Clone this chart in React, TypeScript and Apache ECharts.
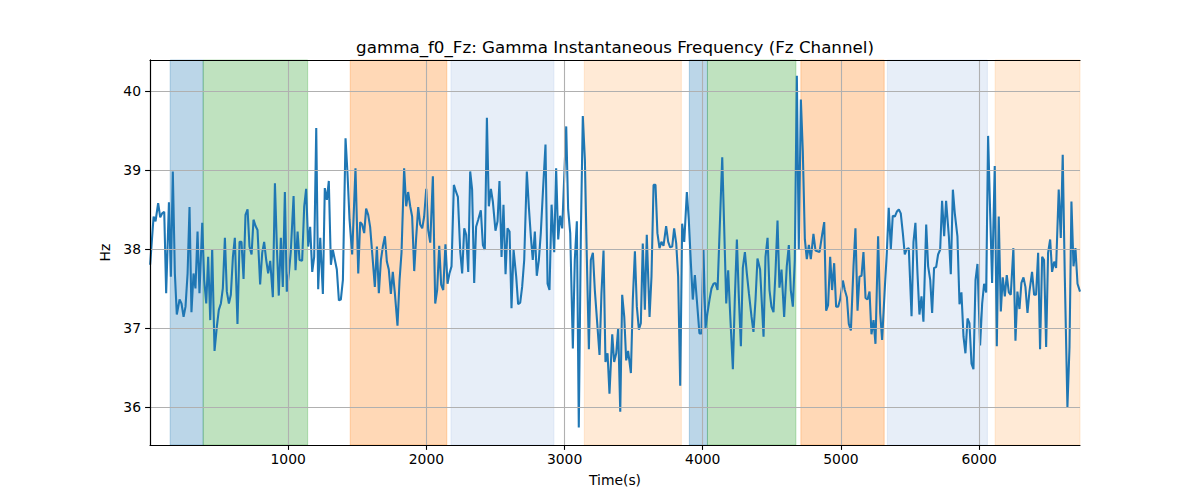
import React, { useEffect, useRef } from "react";
import * as echarts from "echarts";

// Sample times (s) and instantaneous frequency values (Hz)
const times = [
  1, 26, 40, 59, 74, 88, 103, 117, 137, 151, 165, 180, 194, 214, 228, 243, 257, 272, 286, 300,
  315, 329, 344, 358, 378, 392, 407, 421, 436, 450, 467, 484, 498, 513, 527, 542, 556, 571, 585, 600,
  614, 633, 648, 662, 677, 691, 706, 720, 735, 749, 764, 778, 797, 812, 826, 841, 855, 870, 889, 904,
  918, 932, 947, 961, 976, 990, 1005, 1019, 1039, 1053, 1068, 1082, 1101, 1116, 1130, 1145, 1159,
  1174, 1188, 1203, 1217, 1232, 1251, 1265, 1280, 1294, 1309, 1323, 1338, 1352, 1367, 1381, 1396,
  1415, 1429, 1444, 1463, 1487, 1507, 1521, 1535, 1550, 1564, 1579, 1593, 1608, 1627, 1642, 1656,
  1671, 1685, 1700, 1714, 1728, 1743, 1757, 1772, 1791, 1806, 1820, 1839, 1854, 1868, 1883, 1897,
  1912, 1926, 1941, 1955, 1970, 1984, 1999, 2013, 2028, 2047, 2064, 2078, 2093, 2107, 2122, 2138,
  2153, 2167, 2182, 2199, 2213, 2228, 2245,
  2259, 2274, 2288, 2303, 2317, 2331, 2346, 2360, 2375, 2394, 2409, 2423, 2438, 2452, 2467, 2481,
  2500, 2515, 2529, 2544, 2558, 2573, 2587, 2602, 2616, 2631, 2650, 2664, 2679, 2693, 2708, 2727,
  2742, 2756, 2770, 2785, 2799, 2814, 2828, 2843, 2862, 2877, 2891, 2906, 2925, 2939, 2954, 2968,
  2983, 3012, 3026, 3041, 3060, 3074, 3089, 3103, 3118, 3132, 3147, 3161, 3176, 3190, 3205, 3219,
  3238, 3253, 3267, 3282, 3296, 3311, 3325,
  3345, 3359, 3374, 3388, 3403, 3417, 3432, 3446, 3460, 3480, 3494, 3509, 3523, 3538, 3552, 3566,
  3581, 3595, 3615, 3629, 3644, 3658, 3672, 3687, 3701, 3716, 3735, 3750, 3764, 3779, 3793, 3808,
  3822, 3837, 3851, 3866, 3885, 3899, 3914, 3928, 3943, 3957, 3976, 3991, 4005, 4020, 4034, 4049,
  4063, 4078, 4092, 4107, 4141, 4155, 4170, 4184, 4198, 4218, 4232, 4247, 4261, 4276, 4290, 4305,
  4319, 4334, 4353, 4367, 4382, 4396, 4415,
  4440, 4454, 4469, 4483, 4497, 4512, 4526, 4541, 4555, 4570, 4589, 4608, 4623, 4637, 4652, 4666,
  4681, 4695, 4710, 4724, 4739, 4753, 4768, 4782, 4801, 4816, 4830, 4845, 4864, 4879, 4893, 4907,
  4922, 4936, 4951, 4965, 4980, 4994, 5014, 5028, 5043, 5057, 5072, 5091, 5105, 5120, 5134, 5149,
  5163, 5178, 5192, 5207, 5221, 5236, 5250, 5269, 5284, 5298, 5318, 5332, 5346, 5361, 5375, 5390,
  5404, 5419, 5433, 5448, 5462, 5477, 5491,
  5511, 5525, 5539, 5554, 5568, 5583, 5597, 5617, 5631, 5646, 5660, 5674, 5689, 5703, 5718, 5732,
  5747, 5761, 5781, 5795, 5810, 5824, 5843, 5858, 5872, 5887, 5901, 5916, 5930, 5945, 5959, 5974,
  5988, 6007, 6022, 6036, 6051, 6065, 6080, 6094, 6113, 6128, 6142, 6157, 6171, 6186, 6200, 6215,
  6229, 6248, 6263, 6277, 6292, 6306, 6321, 6335, 6350, 6364, 6383, 6398, 6412, 6427, 6441, 6456,
  6470, 6485, 6499, 6514, 6528, 6543, 6557, 6576, 6591, 6605, 6620, 6639, 6654, 6668, 6683, 6697,
  6712, 6730,
];

const values = [
  37.8, 38.41, 38.35, 38.58, 38.4, 38.45, 38.47, 37.44, 38.59, 37.65, 38.98, 37.69, 37.17, 37.36, 37.31, 37.14, 37.27, 37.69, 38.53, 37.2,
  37.69, 37.5, 38.22, 37.44, 38.33, 37.61, 37.31, 37.9, 37.1, 38.0, 36.71, 37.02, 37.23, 37.31, 37.5, 38.14, 37.46, 37.31, 37.42, 37.9,
  38.14, 37.05, 38.09, 38.09, 37.62, 38.43, 38.5, 38.03, 37.93, 38.37, 38.29, 38.24, 37.55, 37.95, 38.09, 37.86, 37.69, 37.85, 37.39, 38.83,
  38.03, 37.41, 38.14, 37.52, 38.72, 37.46, 37.69, 37.97, 38.67, 37.73, 38.22, 37.86, 37.85, 38.54, 38.76, 38.03, 38.28,
  37.71, 37.9, 39.53, 37.49, 38.14, 37.43, 38.77, 38.62, 38.86, 37.8, 37.99, 37.86, 37.74, 37.35, 37.36, 37.61,
  39.4, 38.96, 38.37, 37.93, 39.02, 37.69, 38.34, 38.31, 38.2, 38.51, 38.43, 38.28, 37.95, 37.52, 38.03, 37.44,
  37.86, 38.03, 38.16, 37.84, 37.74, 37.43, 37.71, 37.44, 37.03, 37.61, 37.95, 39.02, 38.54, 38.72, 38.54, 38.41,
  37.72, 38.14, 38.53, 38.31, 38.26, 38.41, 38.76, 38.24, 38.08, 38.92, 37.31, 37.48, 38.04, 37.55, 37.48, 38.06,
  37.56, 37.69, 37.78, 38.81, 38.73, 38.66, 37.97,
  37.69, 38.26, 38.18, 37.71, 38.98, 38.75, 37.57, 38.28, 38.37, 38.49, 38.05, 37.99, 39.66, 38.54, 38.76, 38.6,
  38.23, 38.35, 38.86, 37.9, 38.56, 37.68, 38.26, 38.22, 37.25, 37.99, 37.65, 37.3, 37.32, 37.52, 37.86, 38.98,
  38.52, 38.16, 37.86, 38.22, 37.66, 37.86, 38.2, 38.71, 39.32, 37.56, 37.48, 38.56, 37.96, 39.02, 38.12, 38.42,
  38.26, 39.55, 38.5, 38.2, 36.74, 37.86, 38.35, 35.74, 38.2, 39.68, 39.13, 37.9, 36.73, 37.86, 37.95, 37.48,
  37.02, 36.66, 37.44, 37.98, 36.57, 36.68, 36.17,
  36.92, 36.57, 36.68, 37.0, 35.94, 37.42, 37.14, 36.59, 36.71, 36.43, 37.36, 37.97, 37.27, 36.98, 37.06, 38.07,
  37.23, 38.18, 37.14, 37.65, 38.81, 38.81, 38.2, 38.01, 38.09, 38.04, 38.29, 38.09, 38.02, 38.03, 38.26, 38.07,
  37.65, 36.27, 38.32, 38.09, 38.72, 38.37, 37.82, 37.36, 37.67, 37.36, 36.93, 36.93, 37.99, 37.0, 37.19, 37.36,
  37.5, 37.56, 37.57, 37.48, 39.16, 38.28, 37.31, 37.73, 37.19, 36.48, 37.36, 38.12, 37.4, 36.77, 37.76, 37.96,
  37.69, 37.44, 37.14, 36.95, 37.36, 37.88, 37.74,
  36.89, 37.9, 38.14, 37.48, 37.27, 37.2, 37.69, 38.36, 37.51, 37.74, 37.14, 37.78, 38.05, 37.48, 37.27, 37.86,
  40.19, 37.99, 39.89, 39.24, 38.12, 37.87, 38.05, 37.87, 38.19, 37.98, 37.97, 37.96, 38.18, 38.34, 37.22, 37.29,
  37.9, 37.48, 37.82, 37.27, 37.27, 37.36, 37.6, 37.48, 37.39, 37.05, 36.97, 37.78, 38.26, 37.22, 37.65, 37.66,
  37.96, 37.38, 37.36, 37.46, 36.92, 37.1, 36.8, 38.16, 37.19, 36.85, 37.52, 37.95, 38.52, 38.0, 38.42, 38.41,
  38.47, 38.5, 38.45, 38.2, 37.93, 38.0, 38.01,
  37.15, 38.09, 38.33, 37.69, 37.17, 37.4, 37.08, 38.31, 37.78, 37.61, 37.19, 37.76, 37.77, 37.93, 37.99, 38.61,
  38.16, 38.61, 38.16, 37.68, 38.75, 38.45, 38.16, 37.3, 37.45, 36.89, 36.68, 37.12, 37.06, 36.55, 36.48, 37.61,
  37.81, 36.78, 37.31, 37.56, 37.45, 39.43, 38.45, 37.57, 39.05, 36.77, 38.41, 37.21, 37.64, 37.4, 37.67, 37.45,
  37.42, 38.01, 36.84, 37.46, 37.24, 37.57, 37.64, 37.52, 37.19, 37.46, 37.71, 37.42, 37.42, 37.95, 36.73, 37.9,
  37.86, 36.76, 37.95, 38.12, 37.71, 37.84, 37.76, 38.75, 38.14, 39.19, 37.65, 36.0, 36.76, 38.6, 37.78, 38.01,
  37.56, 37.46,
];

// Shaded segments (start, end, colour)
const bandStarts = [146, 385, 1449, 2178, 3143, 3903, 4034, 4710, 5336, 6116];
const bandEnds = [385, 1141, 2148, 2923, 3845, 4034, 4674, 5313, 6060, 6730];
const bandColors = [
  "rgba(31,119,180,0.3)",
  "rgba(44,160,44,0.3)",
  "rgba(255,127,14,0.3)",
  "rgba(174,199,232,0.3)",
  "rgba(255,187,120,0.3)",
  "rgba(31,119,180,0.3)",
  "rgba(44,160,44,0.3)",
  "rgba(255,127,14,0.3)",
  "rgba(174,199,232,0.3)",
  "rgba(255,187,120,0.3)",
];

const xTicks = [1000, 2000, 3000, 4000, 5000, 6000];
const yTicks = [36, 37, 38, 39, 40];
const xMin = 0;
const xMax = 6730;
const yMin = 35.52;
const yMax = 40.39;

const titleText = "gamma_f0_Fz: Gamma Instantaneous Frequency (Fz Channel)";

export default function App() {
  const ref = useRef<HTMLDivElement>(null);

  useEffect(() => {
    document.body.style.margin = "0";
    const chart = echarts.init(ref.current as HTMLDivElement, null, { renderer: "svg" });
    const font = "DejaVu Sans";
    const data = times.map((t, i) => [t, values[i]]);
    const areas = bandStarts.map((s, i) => [
      {
        xAxis: s,
        itemStyle: { color: bandColors[i], borderColor: bandColors[i], borderWidth: 1 },
      },
      { xAxis: bandEnds[i] },
    ]);
    const spine = { show: true, lineStyle: { color: "#000", width: 1.1 } };
    const labelStyle = { color: "#000", fontFamily: font, fontSize: 13.9 };

    chart.setOption({
      animation: false,
      graphic: [
        {
          type: "text",
          x: 615,
          y: 38,
          style: {
            text: titleText,
            fill: "#000",
            font: `16.7px "${font}"`,
            align: "center",
            verticalAlign: "top",
          },
        },
      ],
      grid: {
        left: 150,
        top: 60,
        width: 930,
        height: 385,
        show: false,
        containLabel: false,
      },
      xAxis: [
        {
          type: "value",
          min: xMin,
          max: xMax,
          z: 10,
          name: "Time(s)",
          nameLocation: "middle",
          nameGap: 28,
          nameTextStyle: labelStyle,
          axisLine: spine,
          axisTick: {
            show: true,
            length: 4.9,
            lineStyle: { color: "#000", width: 1.1 },
            customValues: xTicks,
          },
          axisLabel: {
            customValues: xTicks,
            margin: 7,
            formatter: (v: number) => String(v),
            ...labelStyle,
          },
          splitLine: {
            show: true,
            customValues: xTicks,
            lineStyle: { color: "#b0b0b0", width: 1.1 },
          },
        },
        {
          type: "value",
          position: "top",
          min: xMin,
          max: xMax,
          z: 10,
          axisLine: spine,
          axisTick: { show: false },
          axisLabel: { show: false },
          splitLine: { show: false },
        },
      ],
      yAxis: [
        {
          type: "value",
          min: yMin,
          max: yMax,
          z: 10,
          name: "Hz",
          nameLocation: "middle",
          nameGap: 30,
          nameTextStyle: labelStyle,
          axisLine: spine,
          axisTick: {
            show: true,
            length: 4.9,
            lineStyle: { color: "#000", width: 1.1 },
            customValues: yTicks,
          },
          axisLabel: {
            customValues: yTicks,
            margin: 9,
            ...labelStyle,
          },
          splitLine: {
            show: true,
            customValues: yTicks,
            lineStyle: { color: "#b0b0b0", width: 1.1 },
          },
        },
        {
          type: "value",
          position: "right",
          min: yMin,
          max: yMax,
          z: 10,
          axisLine: spine,
          axisTick: { show: false },
          axisLabel: { show: false },
          splitLine: { show: false },
        },
      ],
      series: [
        {
          type: "line",
          name: "bands",
          data: [],
          z: 1,
          silent: true,
          markArea: { silent: true, data: areas },
        },
        {
          type: "line",
          name: "gamma_f0_Fz",
          data,
          z: 3,
          showSymbol: false,
          symbol: "none",
          lineStyle: { color: "#1f77b4", width: 2.08 },
          itemStyle: { color: "#1f77b4" },
        },
      ],
    });

    return () => {
      chart.dispose();
    };
  }, []);

  return <div ref={ref} style={{ width: 1200, height: 500 }} />;
}
